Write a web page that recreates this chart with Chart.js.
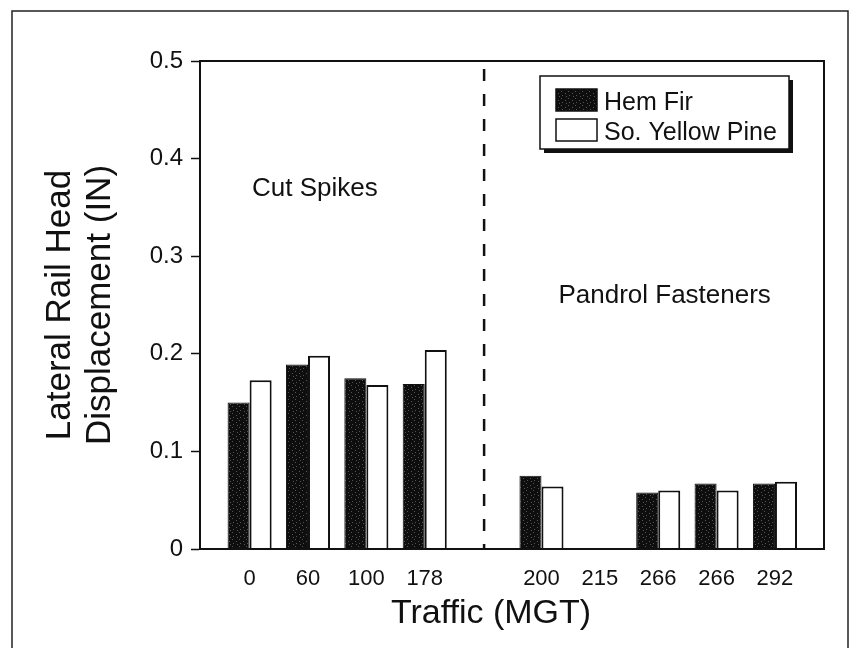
<!DOCTYPE html>
<html>
<head>
<meta charset="utf-8">
<title>Lateral Rail Head Displacement</title>
<script src="https://cdn.jsdelivr.net/npm/chart.js@4.4.1/dist/chart.umd.min.js"></script>
<style>
  html, body { margin: 0; padding: 0; background: #fff; }
  #chart { display: block; }
</style>
</head>
<body>
<canvas id="chart" width="860" height="648"></canvas>
<script>
// Lateral rail head displacement vs. traffic, two tie species
const TRAFFIC = ['0', '60', '100', '178', '', '200', '215', '266', '266', '292'];
const HEM_FIR = [0.150, 0.189, 0.175, 0.169, null, 0.075, null, 0.058, 0.067, 0.067];
const YELLOW_PINE = [0.173, 0.198, 0.168, 0.204, null, 0.064, null, 0.060, 0.060, 0.069];
const SERIES_NAMES = ['Hem Fir', 'So. Yellow Pine'];
const Y_TICKS = [0, 0.1, 0.2, 0.3, 0.4, 0.5];
const DIVIDER_AT = 4; // empty slot between cut spikes and pandrol groups

const INK = '#111';
const FONT = "'Liberation Sans', Arial, Helvetica, sans-serif";

Chart.defaults.font.family = FONT;
Chart.defaults.color = INK;

const canvas = document.getElementById('chart');
const ctx0 = canvas.getContext('2d');

// dark stippled fill, like the scanned print
function stipple() {
  const c = document.createElement('canvas');
  c.width = 7;
  c.height = 7;
  const g = c.getContext('2d');
  g.fillStyle = '#0e0e0e';
  g.fillRect(0, 0, 7, 7);
  g.fillStyle = '#555';
  [[1, 0], [5, 2], [2, 4], [6, 5]].forEach(([x, y]) => g.fillRect(x, y, 1, 1));
  return ctx0.createPattern(c, 'repeat');
}
const firFill = stipple();

// text notes, in data units (x = slot index, y = baseline value)
const notes = [
  { text: 'Cut Spikes', x: 0.04, y: 0.362 },
  { text: 'Pandrol Fasteners', x: 5.29, y: 0.252 },
];

const decor = {
  id: 'decor',
  afterDraw(chart) {
    const { ctx, chartArea: a, scales } = chart;
    ctx.save();

    // dashed divider
    const dx = scales.x.getPixelForValue(DIVIDER_AT) + 1;
    ctx.strokeStyle = INK;
    ctx.lineWidth = 2.5;
    ctx.setLineDash([12, 13]);
    ctx.beginPath();
    ctx.moveTo(dx, a.top + 8);
    ctx.lineTo(dx, a.bottom);
    ctx.stroke();
    ctx.setLineDash([]);

    // plot box
    ctx.lineWidth = 2;
    ctx.strokeRect(a.left, a.top, a.right - a.left, a.bottom - a.top);

    // outer page frame
    ctx.lineWidth = 1.5;
    ctx.strokeStyle = '#222';
    ctx.beginPath();
    ctx.moveTo(12, 648);
    ctx.lineTo(12, 11);
    ctx.lineTo(848, 11);
    ctx.lineTo(848, 648);
    ctx.stroke();

    // notes
    ctx.fillStyle = INK;
    ctx.font = `26px ${FONT}`;
    ctx.textAlign = 'left';
    ctx.textBaseline = 'alphabetic';
    notes.forEach(n => {
      ctx.fillText(n.text, scales.x.getPixelForValue(n.x), scales.y.getPixelForValue(n.y));
    });

    // x axis title
    ctx.font = `34px ${FONT}`;
    ctx.textAlign = 'center';
    ctx.fillText('Traffic (MGT)', 491, 623);

    // legend box with drop shadow
    const L = { x: 540, y: 76, w: 249, h: 73, sh: 4 };
    ctx.fillStyle = INK;
    ctx.fillRect(L.x + L.sh, L.y + L.sh, L.w, L.h);
    ctx.fillStyle = '#fff';
    ctx.fillRect(L.x, L.y, L.w, L.h);
    ctx.strokeStyle = INK;
    ctx.lineWidth = 1.5;
    ctx.strokeRect(L.x, L.y, L.w, L.h);
    ctx.font = `25px ${FONT}`;
    ctx.textAlign = 'left';
    chart.data.datasets.forEach((ds, i) => {
      const sy = 89 + i * 30;
      ctx.fillStyle = ds.backgroundColor;
      ctx.fillRect(556, sy, 41, 22);
      ctx.strokeRect(556, sy, 41, 22);
      ctx.fillStyle = INK;
      ctx.fillText(ds.label, 604, sy + 21);
    });

    ctx.restore();
  },
};

new Chart(canvas, {
  type: 'bar',
  data: {
    datasets: [
      {
        label: SERIES_NAMES[0],
        data: HEM_FIR.map((y, i) => ({ x: i, y })),
        backgroundColor: firFill,
        borderColor: INK,
        borderWidth: 1,
      },
      {
        label: SERIES_NAMES[1],
        data: YELLOW_PINE.map((y, i) => ({ x: i, y })),
        backgroundColor: '#fff',
        borderColor: INK,
        borderWidth: 2,
      },
    ],
  },
  options: {
    responsive: false,
    animation: false,
    categoryPercentage: 0.755,
    barPercentage: 1.0,
    layout: { padding: { left: 40, top: 61, right: 36, bottom: 13 } },
    plugins: {
      legend: { display: false },
      tooltip: { enabled: false },
    },
    scales: {
      x: {
        type: 'linear',
        min: -0.85,
        max: 9.84,
        offset: false,
        afterBuildTicks: s => { s.ticks = TRAFFIC.map((_, i) => ({ value: i })); },
        ticks: {
          color: INK,
          font: { size: 22 },
          padding: 9,
          autoSkip: false,
          maxRotation: 0,
          callback: v => TRAFFIC[v] ?? '',
        },
        grid: { display: false },
        border: { color: INK, width: 2 },
        afterFit: s => { s.height = 86; },
      },
      y: {
        min: 0,
        max: 0.5,
        afterBuildTicks: s => { s.ticks = Y_TICKS.map(v => ({ value: v })); },
        ticks: {
          color: INK,
          font: { size: 24 },
          padding: 8,
          callback: v => (v === 0 ? '0' : v.toFixed(1)),
        },
        grid: { drawOnChartArea: false, tickLength: 9, tickWidth: 1.5, color: INK },
        border: { color: INK, width: 2 },
        title: {
          display: true,
          text: ['Lateral Rail Head', 'Displacement (IN)'],
          color: INK,
          font: { size: 35, lineHeight: 1.14 },
          padding: 0,
        },
        afterFit: s => { s.width = 160; },
      },
    },
  },
  plugins: [decor],
});
</script>
</body>
</html>
